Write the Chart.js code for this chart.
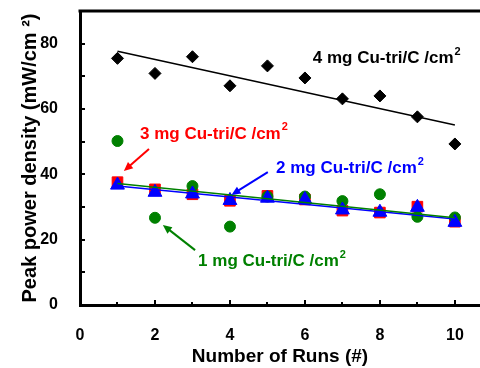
<!DOCTYPE html>
<html>
<head>
<meta charset="utf-8">
<script src="https://cdn.jsdelivr.net/npm/chart.js@4.4.1/dist/chart.umd.min.js"></script>
<style>
  html, body { margin: 0; padding: 0; background: #fff; }
  #wrap { width: 480px; height: 368px; }
</style>
</head>
<body>
<div id="wrap"><canvas id="runsChart" width="480" height="368"></canvas></div>
<script>
// data
const runs = [1, 2, 3, 4, 5, 6, 7, 8, 9, 10];
const load4mg = [75.5, 70.9, 76.0, 67.1, 73.2, 69.5, 63.1, 64.0, 57.6, 49.3];
const load3mg = [37.6, 35.4, 33.9, 31.9, 33.4, 32.3, 28.9, 28.3, 30.1, 25.5];
const load2mg = [36.7, 34.5, 34.0, 32.0, 32.7, 32.3, 29.1, 28.4, 29.9, 25.3];
const load1mg = [50.2, 26.7, 36.4, 24.0, 33.2, 33.2, 31.8, 33.9, 27.0, 26.8];

// trend lines: value at run 1 and run 10
const fitRuns = [1, 10];
const fit4mg = [77.7, 55.1];
const fit2mg = [36.4, 26.3];
const fit1mg = [37.2, 26.7];

const xTicks = [0, 2, 4, 6, 8, 10];
const xMinor = [1, 3, 5, 7, 9];
const yTicks = [0, 20, 40, 60, 80];
const yMinor = [10, 30, 50, 70];

// labels + arrows, in data units
const notes = [
  { text: "4 mg Cu-tri/C /cm", color: "#000000", x: 6.21, y: 75.4 },
  { text: "3 mg Cu-tri/C /cm", color: "#ff0000", x: 1.6, y: 52.3 },
  { text: "2 mg Cu-tri/C /cm", color: "#0000ff", x: 5.23, y: 41.7 },
  { text: "1 mg Cu-tri/C /cm", color: "#008000", x: 3.15, y: 13.3 },
];
const arrows = [
  { color: "#ff0000", from: [1.84, 47.75], to: [1.17, 41.0] },
  { color: "#0000ff", from: [5.01, 40.7], to: [4.04, 33.7] },
  { color: "#008000", from: [3.07, 16.8], to: [2.21, 24.5] },
];

const FONT = "'Liberation Sans', Arial, sans-serif";
const pts = (xs, ys) => xs.map((x, i) => ({ x, y: ys[i] }));

// 內側刻度、上框線、標註
const framePlugin = {
  id: "frame",
  afterDatasetsDraw(chart) {
    const { ctx, chartArea: a, scales } = chart;
    const sx = scales.x, sy = scales.y;
    ctx.save();
    ctx.strokeStyle = "#000";
    ctx.lineWidth = 3;
    ctx.beginPath();
    ctx.moveTo(a.left - 1.5, a.top);
    ctx.lineTo(a.right, a.top);
    ctx.stroke();

    ctx.lineWidth = 2;
    xTicks.concat(xMinor).forEach((v) => {
      const px = Math.round(sx.getPixelForValue(v));
      const len = xMinor.includes(v) ? 3 : 5;
      ctx.beginPath();
      ctx.moveTo(px, a.bottom);
      ctx.lineTo(px, a.bottom - len);
      ctx.stroke();
    });
    yTicks.concat(yMinor).forEach((v) => {
      const py = Math.round(sy.getPixelForValue(v));
      ctx.beginPath();
      ctx.moveTo(a.left, py);
      ctx.lineTo(a.left + 5, py);
      ctx.stroke();
    });

    // arrows
    arrows.forEach((ar) => {
      const x1 = sx.getPixelForValue(ar.from[0]), y1 = sy.getPixelForValue(ar.from[1]);
      const x2 = sx.getPixelForValue(ar.to[0]), y2 = sy.getPixelForValue(ar.to[1]);
      const ang = Math.atan2(y2 - y1, x2 - x1);
      ctx.strokeStyle = ar.color;
      ctx.fillStyle = ar.color;
      ctx.lineWidth = 2;
      ctx.beginPath();
      ctx.moveTo(x1, y1);
      ctx.lineTo(x2 - 6 * Math.cos(ang), y2 - 6 * Math.sin(ang));
      ctx.stroke();
      ctx.beginPath();
      ctx.moveTo(x2, y2);
      ctx.lineTo(x2 - 9 * Math.cos(ang) + 4 * Math.sin(ang), y2 - 9 * Math.sin(ang) - 4 * Math.cos(ang));
      ctx.lineTo(x2 - 9 * Math.cos(ang) - 4 * Math.sin(ang), y2 - 9 * Math.sin(ang) + 4 * Math.cos(ang));
      ctx.closePath();
      ctx.fill();
    });

    // labels with superscript 2
    notes.forEach((n) => {
      const px = sx.getPixelForValue(n.x), py = sy.getPixelForValue(n.y);
      ctx.fillStyle = n.color;
      ctx.textBaseline = "middle";
      ctx.textAlign = "left";
      ctx.font = "bold 17px " + FONT;
      ctx.fillText(n.text, px, py);
      const w = ctx.measureText(n.text).width;
      ctx.font = "bold 11px " + FONT;
      ctx.fillText("2", px + w + 1, py - 7);
    });
    ctx.restore();
  },
};

new Chart(document.getElementById("runsChart"), {
  type: "scatter",
  data: {
    datasets: [
      {
        label: "4 mg fit",
        type: "line",
        data: pts(fitRuns, fit4mg),
        borderColor: "#000",
        borderWidth: 1.5,
        pointRadius: 0,
        order: 1,
      },
      {
        label: "4 mg",
        data: pts(runs, load4mg),
        pointStyle: "rectRot",
        pointRadius: 6,
        backgroundColor: "#000",
        borderColor: "#000",
        borderWidth: 1,
        order: 2,
      },
      {
        label: "1 mg fit",
        type: "line",
        data: pts(fitRuns, fit1mg),
        borderColor: "#008000",
        borderWidth: 1.5,
        pointRadius: 0,
        order: 3,
      },
      {
        label: "2 mg fit",
        type: "line",
        data: pts(fitRuns, fit2mg),
        borderColor: "#0000ff",
        borderWidth: 1.5,
        pointRadius: 0,
        order: 4,
      },
      {
        label: "2 mg",
        data: pts(runs, load2mg),
        pointStyle: "triangle",
        pointRadius: 8,
        backgroundColor: "#0000ff",
        borderColor: "#0000ff",
        borderWidth: 1,
        order: 5,
      },
      {
        label: "1 mg",
        data: pts(runs, load1mg),
        pointStyle: "circle",
        pointRadius: 5.5,
        backgroundColor: "#008000",
        borderColor: "#008000",
        borderWidth: 1,
        order: 6,
      },
      {
        label: "3 mg",
        data: pts(runs, load3mg),
        pointStyle: "rect",
        pointRadius: 7.5,
        backgroundColor: "#ff0000",
        borderColor: "#ff0000",
        borderWidth: 1,
        order: 7,
      },
    ],
  },
  options: {
    responsive: false,
    animation: false,
    layout: { autoPadding: false, padding: { top: 11, right: 0, left: 0, bottom: 0 } },
    plugins: { legend: { display: false }, tooltip: { enabled: false } },
    scales: {
      x: {
        type: "linear",
        min: 0,
        max: 10.67,
        afterBuildTicks: (s) => { s.ticks = xTicks.map((v) => ({ value: v })); },
        afterFit: (s) => { s.height = 63; s.paddingLeft = 0; s.paddingRight = 0; },
        grid: { display: false, drawTicks: false },
        border: { display: true, color: "#000", width: 3 },
        ticks: { color: "#000", padding: 21, maxRotation: 0, font: { family: FONT, size: 16, weight: "bold" } },
        title: {
          display: true,
          text: "Number of Runs (#)",
          color: "#000",
          padding: { top: 0, bottom: 0 },
          font: { family: FONT, size: 19, weight: "bold" },
        },
      },
      y: {
        min: 0,
        max: 90,
        afterBuildTicks: (s) => { s.ticks = yTicks.map((v) => ({ value: v })); },
        afterFit: (s) => { s.width = 80; s.paddingTop = 0; s.paddingBottom = 0; },
        grid: { display: false, drawTicks: false },
        border: { display: true, color: "#000", width: 3 },
        ticks: { color: "#000", padding: 22, font: { family: FONT, size: 16, weight: "bold" } },
        title: {
          display: true,
          text: "Peak power density (mW/cm \u00b2)",
          color: "#000",
          padding: { top: 18, bottom: 0 },
          font: { family: FONT, size: 20, weight: "bold" },
        },
      },
    },
  },
  plugins: [framePlugin],
});
</script>
</body>
</html>
